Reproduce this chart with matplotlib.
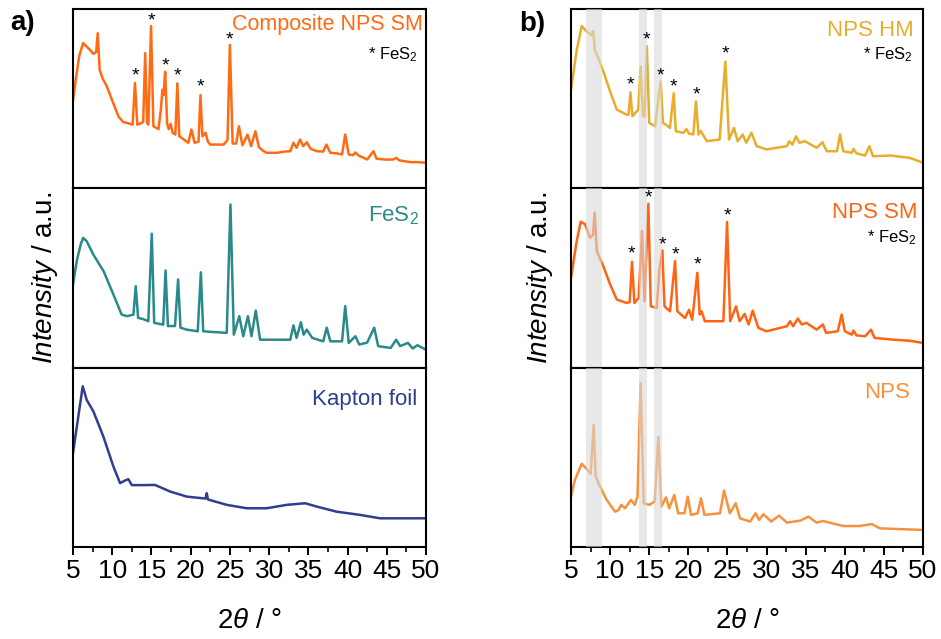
import matplotlib
matplotlib.use("Agg")
import matplotlib.pyplot as plt
from matplotlib.ticker import MultipleLocator

plt.rcParams['font.family'] = ['Liberation Sans', 'DejaVu Sans']
plt.rcParams['mathtext.fontset'] = 'custom'
plt.rcParams['mathtext.rm'] = 'Liberation Sans'
plt.rcParams['mathtext.it'] = 'Liberation Sans:italic'

# ---- data (2theta in deg, intensity in % of panel height) ----
comp_x = [5.0, 5.4, 5.8, 6.3, 6.75, 7.2, 7.6, 7.95, 8.15, 8.4, 8.8, 9.3, 10.0, 10.8, 11.4, 11.85,
          12.6, 12.9, 13.2, 13.75, 13.95, 14.2, 14.45, 14.6, 14.95, 15.25, 15.9, 16.2, 16.4, 16.55,
          16.75, 17.0, 17.2, 17.45, 17.7, 18.05, 18.3, 18.55, 19.2, 19.7, 20.1, 20.5, 21.0, 21.25,
          21.5, 21.9, 22.2, 22.5, 23.5, 24.2, 24.7, 25.0, 25.35, 25.8, 26.15, 26.6, 27.25, 27.7,
          28.25, 28.7, 29.2, 29.7, 31.0, 32.0, 32.7, 33.1, 33.5, 33.95, 34.35, 34.8, 35.3, 36.1,
          36.9, 37.3, 37.8, 38.6, 39.3, 39.7, 40.15, 40.7, 41.0, 41.4, 42.5, 43.3, 43.7, 45.0,
          45.85, 46.2, 46.6, 48.0, 49.0, 50.0]
comp_y = [49, 62, 74, 81, 79, 77, 75, 76, 86.5, 66, 61, 57, 49, 40, 37, 36.5,
          35.5, 58.7, 35.5, 36.5, 37, 75.4, 36.5, 35.5, 90.5, 34.6, 33, 44, 55, 52,
          65, 36, 33, 36, 31, 30, 58.5, 29, 27, 25.4, 32.8, 25.4, 26, 52,
          29, 31, 26, 24.4, 24.4, 24.4, 27, 80, 25, 25, 34.6, 24, 30, 23.5,
          31.8, 23, 21, 19.8, 19.8, 20.5, 20.7, 25.4, 22.6, 27.2, 23.5, 25.7, 22, 20.7,
          20.5, 24.4, 19.8, 19.5, 18.9, 30, 18.9, 18.5, 20, 18.3, 16.1, 20.7, 16.5, 16,
          16.1, 17, 15.6, 14.6, 14.6, 14.3]

fes_x = [5.0, 5.5, 6.0, 6.3, 6.75, 7.6, 8.9, 10.15, 11.2, 11.9, 12.7, 13.0, 13.3, 14.0, 14.6,
         15.04, 15.35, 16.5, 16.8, 17.1, 18.0, 18.4, 18.7, 19.5, 20.9, 21.3, 21.6, 22.5, 24.6,
         25.07, 25.5, 26.2, 26.7, 27.3, 27.75, 28.3, 28.85, 30.0, 32.7, 33.1, 33.5, 34.05, 34.4,
         34.8, 35.5, 36.9, 37.35, 37.8, 39.3, 39.7, 40.15, 41.0, 41.5, 42.5, 43.4, 43.9, 45.5,
         46.2, 46.7, 47.7, 48.3, 48.9, 50.0]
fes_y = [46.4, 60, 69, 72.4, 70.5, 63, 53.8, 40.8, 29.6, 28.7, 29.6, 45.4, 27.8, 27, 25.9,
         74.7, 25, 24, 54.2, 23.2, 23.2, 49.2, 22.3, 21.2, 20.3, 53.2, 20.3, 20, 19.4,
         91, 18.4, 28.7, 17.5, 28.7, 17.5, 31.8, 15.6, 15.6, 15.6, 23.6, 16.6, 25.3, 18.4,
         21.2, 16.6, 14.7, 22.3, 14.7, 14.7, 34.3, 13.8, 17.5, 12.9, 14.0, 22.3, 12, 11,
         15.6, 12, 13.8, 10.7, 12.5, 10]

kap_x = [5.0, 5.68, 6.24, 6.75, 7.6, 8.87, 10.15, 11.0, 11.6, 12.06, 12.5, 13.5, 15.46, 17.4,
         19.5, 21.9, 22.05, 22.2, 24.6, 27.15, 29.7, 32.25, 34.6, 36.1, 38.6, 41.6, 44.15,
         47.0, 50.0]
kap_y = [52.5, 72.8, 89.6, 82, 75.6, 61.6, 44.9, 35.6, 37, 37.8, 34.5, 34.5, 34.6, 30.9,
         28.1, 27, 30, 26.5, 23.5, 21.6, 21.6, 23.5, 24.4, 22.5, 19.7, 17.9, 16,
         16, 16]

hm_x = [5.0, 5.73, 6.37, 7.0, 7.6, 7.85, 8.05, 8.5, 9.13, 10.0, 10.85, 12.1, 12.35, 12.6, 12.85,
        13.6, 13.9, 14.2, 14.4, 14.7, 15.0, 15.75, 16.17, 16.47, 16.75, 17.1, 17.65, 18.13, 18.4,
        19.36, 19.75, 20.1, 20.64, 20.98, 21.3, 21.6, 22.35, 24.0, 24.73, 25.2, 25.84, 26.3,
        26.95, 27.4, 28.06, 28.74, 30.0, 32.6, 32.9, 33.3, 33.77, 34.2, 34.9, 36.4, 37.15,
        37.7, 39.0, 39.4, 39.8, 40.9, 41.1, 41.5, 42.6, 43.15, 43.6, 45.8, 48.3, 50.0]
hm_y = [55, 77, 90.5, 87.4, 85.4, 87.8, 77, 72.5, 65.2, 54, 43.9, 41.1, 41, 53.5, 40.2,
        43.9, 68, 40.2, 40, 79.3, 36.5, 34.6, 50.2, 59.6, 36.5, 35.6, 33.7, 53, 31.9,
        30.9, 33, 30.5, 30, 48.5, 30, 32, 26.3, 27.2, 70.7, 27.2, 33.7, 26.3,
        30, 25.4, 31, 23.5, 21.7, 23.5, 26.3, 24.4, 29, 25.4, 26.3, 22.6, 25.7,
        20.7, 20.7, 30, 20.7, 19.8, 22, 19.5, 18.3, 23.5, 17.9, 18.3, 17, 14.3]

sm_x = [5.0, 5.73, 6.24, 6.8, 7.43, 7.8, 8.03, 8.3, 9.13, 10.0, 10.85, 12.1, 12.5, 12.8, 13.1,
        13.65, 14.08, 14.4, 14.89, 15.2, 15.96, 16.3, 16.68, 16.95, 17.66, 18.3, 18.6, 19.58,
        20.09, 20.5, 21.15, 21.45, 21.7, 22.1, 24.48, 24.95, 25.35, 26.1, 26.55, 27.2, 27.7,
        28.23, 28.95, 30.0, 32.6, 33.0, 33.4, 34.0, 34.5, 35.1, 36.4, 37.2, 37.6, 39.1, 39.6,
        40.0, 40.9, 41.1, 41.5, 42.6, 43.36, 43.8, 46.2, 48.3, 50.0]
sm_y = [50.1, 70.6, 81.4, 80, 72.4, 74, 86.4, 65, 56.6, 46.4, 38, 36.1, 36.5, 59, 36.1,
        38.9, 76.2, 37, 91.4, 34.2, 33.3, 54.7, 65.4, 34.2, 31.4, 59.4, 31.4, 27.7,
        32.3, 26.8, 52.9, 29.6, 31.4, 25.9, 25.9, 81.2, 25.9, 34.2, 25.9, 30, 24.1,
        31.8, 22.2, 20.3, 23.1, 25.9, 23.1, 27.4, 24.1, 25, 21.2, 24.1, 19.4, 20.3, 29.6,
        20.3, 18.4, 20.7, 18, 17.5, 21.2, 16.6, 15.6, 15, 13.8]

nps_x = [5.0, 5.5, 6.37, 7.0, 7.52, 7.9, 8.15, 8.7, 9.56, 10.63, 11.05, 11.43, 11.9, 12.67,
         13.15, 13.5, 13.9, 14.3, 15.0, 15.7, 16.17, 16.55, 17.15, 17.55, 18.2, 18.7, 19.5,
         19.92, 20.35, 21.2, 21.62, 22.05, 24.05, 24.57, 25.3, 26.06, 26.6, 27.9, 28.6, 29.05,
         29.6, 30.6, 31.6, 32.6, 34.3, 35.35, 36.4, 37.2, 39.8, 41.9, 43.45, 44.5, 50.0]
nps_y = [28.1, 37.4, 46.4, 43.5, 40.8, 68.2, 39.5, 33.7, 26.3, 19.7, 20.5, 23.5, 21.6, 26.3,
         23.5, 28.1, 91.4, 24.4, 23.5, 25.3, 61.3, 22.5, 27.7, 21.6, 29, 18.8, 18.8,
         28.1, 17.9, 18.8, 27.2, 17.9, 18.8, 31.5, 18.8, 24.4, 16, 14.2, 18.8, 15.1,
         18.3, 14.2, 17.5, 13.6, 14.7, 16.9, 13.6, 14.5, 11.7, 11.7, 12.8, 10.4, 9.5]

# FeS2 reflections marked with *
comp_star_x = [12.9, 14.95, 16.75, 18.35, 21.3, 25.0]
comp_star_y = [62.4, 93.3, 68.5, 62.5, 56.5, 83.0]
hm_star_x = [12.6, 14.7, 16.47, 18.13, 20.98, 24.73]
hm_star_y = [57.8, 82.8, 62.8, 56.8, 51.8, 75.0]
sm_star_x = [12.76, 14.85, 16.63, 18.3, 21.15, 24.95]
sm_star_y = [63.5, 94.5, 68.5, 62.6, 57.5, 84.5]

# grey marked regions (2theta ranges)
band_lo = [6.9, 13.7, 15.65]
band_hi = [9.0, 14.7, 16.6]

c_comp = '#FF6A13'
c_fes = '#2A8A8A'
c_kap = '#2F3E8E'
c_hm = '#E8AD2A'
c_sm = '#FF6314'
c_nps = '#F5923E'

fig = plt.figure(figsize=(9.41, 6.39), dpi=100)

W, H = 941.0, 639.0
top_px, bot_px = 9.0, 547.0
h_px = (bot_px - top_px) / 3


def make_axes(x0_px, x1_px):
    axs = []
    for i in range(3):
        y_top = top_px + i * h_px
        ax = fig.add_axes([x0_px / W, 1 - (y_top + h_px) / H, (x1_px - x0_px) / W, h_px / H])
        ax.set_xlim(5, 50)
        ax.set_ylim(0, 100)
        ax.set_yticks([])
        ax.xaxis.set_major_locator(MultipleLocator(5))
        ax.xaxis.set_minor_locator(MultipleLocator(2.5))
        ax.tick_params(axis='x', which='major', direction='out', length=6, width=1.4,
                       labelsize=19, pad=3, top=False)
        ax.tick_params(axis='x', which='minor', direction='out', length=3.5, width=1.2, top=False)
        if i < 2:
            ax.tick_params(axis='x', labelbottom=False)
        for s in ax.spines.values():
            s.set_linewidth(1.5)
        axs.append(ax)
    return axs


left = make_axes(73, 426)
right = make_axes(571, 923)

lw = 1.8

# left panel
left[0].plot(comp_x, comp_y, color=c_comp, lw=lw)
left[1].plot(fes_x, fes_y, color=c_fes, lw=lw)
left[2].plot(kap_x, kap_y, color=c_kap, lw=lw)

left[0].text(0.99, 0.915, 'Composite NPS SM', color=c_comp, fontsize=15.5,
             ha='right', va='center', transform=left[0].transAxes)
left[0].text(0.977, 0.744, '* FeS$_2$', color='black', fontsize=12,
             ha='right', va='center', transform=left[0].transAxes)
left[1].text(0.98, 0.845, 'FeS$_2$', color=c_fes, fontsize=16,
             ha='right', va='center', transform=left[1].transAxes)
left[2].text(0.975, 0.82, 'Kapton foil', color=c_kap, fontsize=16,
             ha='right', va='center', transform=left[2].transAxes)
for sx, sy in zip(comp_star_x, comp_star_y):
    left[0].text(sx, sy, '*', fontsize=14, ha='center', va='center', zorder=5)

# right panel
right[0].plot(hm_x, hm_y, color=c_hm, lw=lw, zorder=2)
right[1].plot(sm_x, sm_y, color=c_sm, lw=lw, zorder=2)
right[2].plot(nps_x, nps_y, color=c_nps, lw=lw, zorder=2)

for ax in right:
    for lo, hi in zip(band_lo, band_hi):
        ax.axvspan(lo, hi, color='#d9d9d9', alpha=0.6, lw=0, zorder=3)

right[0].text(0.974, 0.88, 'NPS HM', color=c_hm, fontsize=16,
              ha='right', va='center', transform=right[0].transAxes)
right[0].text(0.97, 0.744, '* FeS$_2$', color='black', fontsize=12,
              ha='right', va='center', transform=right[0].transAxes)
right[1].text(0.983, 0.864, 'NPS SM', color=c_sm, fontsize=16,
              ha='right', va='center', transform=right[1].transAxes)
right[1].text(0.983, 0.725, '* FeS$_2$', color='black', fontsize=12,
              ha='right', va='center', transform=right[1].transAxes)
right[2].text(0.963, 0.859, 'NPS', color=c_nps, fontsize=16,
              ha='right', va='center', transform=right[2].transAxes)
for sx, sy in zip(hm_star_x, hm_star_y):
    right[0].text(sx, sy, '*', fontsize=14, ha='center', va='center', zorder=5)
for sx, sy in zip(sm_star_x, sm_star_y):
    right[1].text(sx, sy, '*', fontsize=14, ha='center', va='center', zorder=5)

# axis titles and panel letters
for xc in [(73 + 426) / 2, (571 + 923) / 2]:
    fig.text(xc / W, 1 - 621 / H, r'$\mathit{2\theta}$ / °', fontsize=20,
             ha='center', va='center')
for xc in [45, 540]:
    fig.text(xc / W, 1 - 278 / H, r'$\mathit{Intensity}$ / a.u.', fontsize=20,
             rotation=90, ha='center', va='center')

fig.text(23 / W, 1 - 23 / H, 'a)', fontsize=20, fontweight='bold', ha='center', va='center')
fig.text(532 / W, 1 - 24 / H, 'b)', fontsize=20, fontweight='bold', ha='center', va='center')

fig.savefig('out.png', dpi=100)
